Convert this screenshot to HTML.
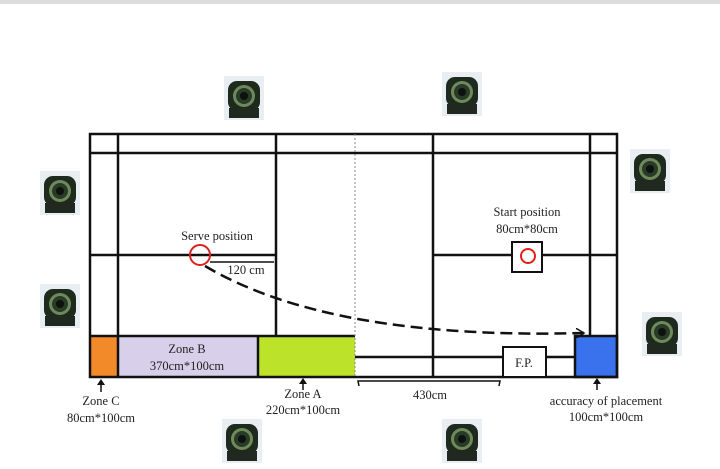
<!DOCTYPE html>
<html><head><style>
body{margin:0;background:#fff;}
svg{display:block;}
text{font-family:"Liberation Serif",serif;font-size:12.5px;fill:#222;}
</style></head><body>
<svg width="720" height="469" viewBox="0 0 720 469">
<defs>
<g id="cam">
<rect x="-20" y="-22" width="40" height="44" fill="#e8eef2"/>
<rect x="-16" y="-17" width="32" height="30" rx="9" fill="#1d2a1d"/>
<rect x="-15" y="10" width="30" height="10" fill="#202820"/>
<circle cx="0" cy="-2" r="11" fill="#6f8a5a"/>
<circle cx="0" cy="-2" r="8" fill="#2a3a28"/>
<circle cx="0" cy="-2" r="4" fill="#0c120c"/>
</g>
<marker id="ah" markerWidth="10" markerHeight="10" refX="8" refY="5" orient="auto" markerUnits="userSpaceOnUse"><path d="M0,0 L8,5 L0,10" fill="none" stroke="#111" stroke-width="1.5"/></marker>
</defs>
<rect x="0" y="0" width="720" height="4" fill="#dcdcdc"/>
<use href="#cam" x="244" y="98"/>
<use href="#cam" x="462" y="94"/>
<use href="#cam" x="60" y="193"/>
<use href="#cam" x="650" y="171"/>
<use href="#cam" x="60" y="306"/>
<use href="#cam" x="662" y="334"/>
<use href="#cam" x="242" y="441"/>
<use href="#cam" x="462" y="441"/>
<rect x="90" y="336" width="28" height="41" fill="#f28a2a"/>
<rect x="118" y="336" width="140" height="41" fill="#d8d0ea"/>
<rect x="258" y="336" width="97" height="41" fill="#bde22a"/>
<rect x="575" y="336" width="42" height="41" fill="#3a72ee"/>
<g stroke="#111" stroke-width="2.5" fill="none">
<rect x="90" y="134" width="527" height="243"/>
<line x1="90" y1="153" x2="617" y2="153"/>
<line x1="118" y1="134" x2="118" y2="377"/>
<line x1="590" y1="134" x2="590" y2="336"/>
<line x1="276" y1="134" x2="276" y2="336"/>
<line x1="433" y1="134" x2="433" y2="377"/>
<line x1="90" y1="255" x2="276" y2="255"/>
<line x1="433" y1="255" x2="617" y2="255"/>
<line x1="90" y1="336" x2="355" y2="336"/>
<line x1="258" y1="336" x2="258" y2="377"/>
<line x1="355" y1="357" x2="575" y2="357"/>
<rect x="575" y="336" width="42" height="41"/>
</g>
<line x1="355" y1="134" x2="355" y2="377" stroke="#888" stroke-width="1" stroke-dasharray="2,2"/>
<rect x="503" y="347" width="43" height="30" fill="#fff" stroke="#111" stroke-width="2"/>
<text x="524" y="367" text-anchor="middle">F.P.</text>
<rect x="512" y="242" width="30" height="30" fill="#fff" stroke="#111" stroke-width="2"/>
<circle cx="528" cy="256" r="7" fill="none" stroke="#e02020" stroke-width="2"/>
<circle cx="200" cy="255" r="10" fill="none" stroke="#e02020" stroke-width="2"/>
<path d="M210,262 L274,262" stroke="#111" stroke-width="1.5"/>
<text x="246" y="274" text-anchor="middle">120 cm</text>
<path d="M205,266 Q330,340 584,333" fill="none" stroke="#111" stroke-width="2.5" stroke-dasharray="12,6" marker-end="url(#ah)"/>
<text x="217" y="240" text-anchor="middle">Serve position</text>
<text x="527" y="216" text-anchor="middle">Start position</text>
<text x="527" y="233" text-anchor="middle">80cm*80cm</text>
<text x="187" y="353" text-anchor="middle">Zone B</text>
<text x="187" y="370" text-anchor="middle">370cm*100cm</text>
<g stroke="#111" stroke-width="1.5">
<line x1="101" y1="381" x2="101" y2="392"/><line x1="303" y1="381" x2="303" y2="390"/><line x1="597" y1="381" x2="597" y2="390"/>
</g>
<g fill="#111"><path d="M97,385 L101,379 L105,385Z"/><path d="M299,384 L303,378 L307,384Z"/><path d="M593,384 L597,378 L601,384Z"/></g>
<text x="101" y="405" text-anchor="middle">Zone C</text>
<text x="101" y="422" text-anchor="middle">80cm*100cm</text>
<text x="303" y="398" text-anchor="middle">Zone A</text>
<text x="303" y="414" text-anchor="middle">220cm*100cm</text>
<path d="M359,386 L358,381 L500,381 L499,386" fill="none" stroke="#111" stroke-width="1.5"/>
<text x="430" y="399" text-anchor="middle">430cm</text>
<text x="606" y="405" text-anchor="middle">accuracy of placement</text>
<text x="606" y="421" text-anchor="middle">100cm*100cm</text>
</svg>
</body></html>
